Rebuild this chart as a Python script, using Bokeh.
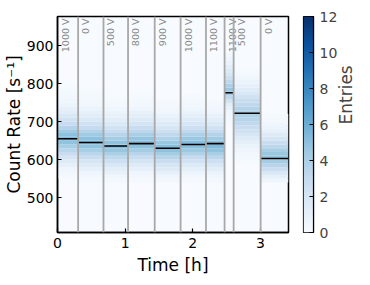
import numpy as np
from bokeh.plotting import figure
from bokeh.models import ColumnDataSource, LinearColorMapper, Span, FixedTicker, Range1d
from bokeh.layouts import row
from bokeh.palettes import Blues256
from bokeh.embed import file_html
from bokeh.resources import INLINE
from bokeh.core.properties import value

# ---------------- data ----------------
seg_start = [0.0, 0.305, 0.68, 1.043, 1.437, 1.82, 2.195, 2.47, 2.604, 3.003]
t_end = 3.415
voltages = ["1000 V", "0 V", "500 V", "800 V", "900 V", "1000 V", "1100 V", "1100 V", "500 V", "0 V"]
mean_rate = [655, 645, 636, 642, 630, 640, 642, 776, 722, 603]

# histogram rate bin edges (s^-1), 540 .. 880
rate_edges = [540, 550, 560, 570, 580, 590, 600, 610, 620, 630, 640, 650, 660, 670, 680, 690,
              700, 710, 720, 730, 740, 750, 760, 770, 780, 790, 800, 810, 820, 830, 840, 850,
              860, 870, 880]

# entries per rate bin, one profile per segment
prof0 = [0, 0.2, 0.4, 0.6, 1.0, 1.5, 2.1, 2.8, 3.5, 4.2, 4.9, 5.3, 5.0, 4.4, 3.7, 3.0, 2.4, 1.8,
         1.3, 1.0, 0.7, 0.5, 0.4, 0.3, 0.2, 0.1, 0, 0, 0, 0, 0, 0, 0, 0]
prof1 = [0.2, 0.4, 0.6, 1.0, 1.5, 2.1, 2.8, 3.5, 4.2, 4.9, 5.3, 5.0, 4.4, 3.7, 3.0, 2.4, 1.8, 1.3,
         1.0, 0.7, 0.5, 0.4, 0.3, 0.2, 0.1, 0, 0, 0, 0, 0, 0, 0, 0, 0]
prof2 = [0.3, 0.5, 0.9, 1.3, 1.9, 2.6, 3.3, 4.0, 4.7, 5.2, 4.9, 4.3, 3.6, 2.9, 2.3, 1.7, 1.3, 0.9,
         0.7, 0.5, 0.3, 0.2, 0.1, 0, 0, 0, 0, 0, 0, 0, 0, 0, 0, 0]
prof3 = [0.2, 0.4, 0.6, 1.0, 1.5, 2.2, 2.9, 3.6, 4.3, 5.0, 5.2, 4.8, 4.1, 3.4, 2.8, 2.2, 1.6, 1.2,
         0.9, 0.6, 0.4, 0.3, 0.2, 0.1, 0, 0, 0, 0, 0, 0, 0, 0, 0, 0]
prof4 = [0.4, 0.6, 1.0, 1.5, 2.1, 2.8, 3.6, 4.3, 5.0, 5.2, 4.6, 3.9, 3.2, 2.6, 2.0, 1.5, 1.1, 0.8,
         0.5, 0.4, 0.3, 0.2, 0, 0, 0, 0, 0, 0, 0, 0, 0, 0, 0, 0]
prof5 = [0.2, 0.4, 0.7, 1.1, 1.6, 2.3, 3.0, 3.8, 4.5, 5.1, 5.2, 4.6, 3.9, 3.2, 2.6, 2.0, 1.5, 1.1,
         0.8, 0.5, 0.4, 0.3, 0.2, 0, 0, 0, 0, 0, 0, 0, 0, 0, 0, 0]
prof6 = [0.3, 0.5, 0.8, 1.3, 1.9, 2.6, 3.4, 4.2, 4.9, 5.3, 5.0, 4.4, 3.7, 3.0, 2.3, 1.7, 1.3, 0.9,
         0.6, 0.4, 0.3, 0.2, 0, 0, 0, 0, 0, 0, 0, 0, 0, 0, 0, 0]
prof7 = [0, 0, 0, 0, 0, 0, 0, 0, 0, 0, 0, 0, 0, 0, 0, 0.2, 0.3, 0.4,
         0.6, 0.9, 1.4, 2.3, 3.3, 4.3, 4.6, 4.0, 3.3, 2.6, 2.0, 1.6, 1.2, 0.8, 0.6, 0.4]
prof8 = [0, 0, 0, 0, 0, 0.2, 0.3, 0.4, 0.6, 0.8, 1.1, 1.5, 1.9, 2.4, 2.8, 3.2, 3.6, 3.8,
         3.9, 3.7, 3.3, 2.9, 2.3, 1.8, 1.4, 1.0, 0.7, 0.5, 0.3, 0.2, 0, 0, 0, 0]
prof9 = [0.6, 1.1, 1.8, 2.7, 3.6, 4.3, 4.7, 4.6, 4.1, 3.4, 2.8, 2.1, 1.5, 1.0, 0.7, 0.5, 0.3, 0.2,
         0, 0, 0, 0, 0, 0, 0, 0, 0, 0, 0, 0, 0, 0, 0, 0]
profiles = [prof0, prof1, prof2, prof3, prof4, prof5, prof6, prof7, prof8, prof9]

x_ticks = [0, 1, 2, 3]
y_ticks = [500, 600, 700, 800, 900]
cb_ticks = [0, 2, 4, 6, 8, 10, 12]
y_lo, y_hi = 408, 977
c_lo, c_hi = 0, 12

# ---------------- build ----------------
seg_end = seg_start[1:] + [t_end]

pal = list(Blues256)
def lum(h):
    return int(h[1:3], 16) + int(h[3:5], 16) + int(h[5:7], 16)
if lum(pal[0]) < lum(pal[-1]):
    pal = pal[::-1]  # light -> dark

mapper = LinearColorMapper(palette=pal, low=c_lo, high=c_hi)

L, R, B, T, C = [], [], [], [], []
for i, prof in enumerate(profiles):
    for j, c in enumerate(prof):
        if c > 0:
            L.append(seg_start[i]); R.append(seg_end[i])
            B.append(rate_edges[j]); T.append(rate_edges[j + 1]); C.append(c)
hist = ColumnDataSource(dict(left=L, right=R, bottom=B, top=T, count=C))

FONT = "DejaVu Sans"
TICK_FS = "14px"
LAB_FS = "17px"

p = figure(frame_width=231, frame_height=216,
           x_range=Range1d(0, t_end), y_range=Range1d(y_lo, y_hi),
           output_backend="svg", toolbar_location=None,
           min_border_left=40, min_border_right=7, min_border_top=16, min_border_bottom=10)
p.background_fill_color = pal[0]
p.border_fill_color = "white"
p.xgrid.visible = False
p.ygrid.visible = False
p.outline_line_color = "black"
p.outline_line_width = 1.5
p.outline_line_alpha = 1

p.quad(left="left", right="right", bottom="bottom", top="top", source=hist,
       fill_color={"field": "count", "transform": mapper}, line_color=None)

for s in seg_start[1:]:
    p.add_layout(Span(location=s, dimension="height", line_color="#a8a8a8", line_width=1.8))

p.segment(x0=seg_start, x1=seg_end, y0=mean_rate, y1=mean_rate, line_color="black", line_width=1.6)

p.text(x=seg_start, y=[y_hi] * len(seg_start), text=voltages, angle=np.pi / 2,
       text_align="right", text_baseline="top", x_offset=2, y_offset=2,
       text_font=value(FONT), text_font_size="9.5px", text_color="#888888")

for ax in (p.xaxis[0], p.yaxis[0]):
    ax.major_tick_in = 4
    ax.major_tick_out = 0
    ax.minor_tick_line_color = None
    ax.axis_line_width = 1.5
    ax.major_tick_line_width = 1.2
    ax.major_label_text_font = FONT
    ax.major_label_text_font_size = TICK_FS
    ax.major_label_text_color = "black"
    ax.axis_label_text_font = FONT
    ax.axis_label_text_font_size = LAB_FS
    ax.axis_label_text_font_style = "normal"
    ax.axis_label_text_color = "black"
p.xaxis.ticker = FixedTicker(ticks=x_ticks)
p.yaxis.ticker = FixedTicker(ticks=y_ticks)
p.xaxis.axis_label = "Time [h]"
p.yaxis.axis_label = "Count Rate [s\u207b\u00b9]"
p.xaxis.major_label_standoff = 5
p.yaxis.major_label_standoff = 4
p.xaxis.axis_label_standoff = 4
p.yaxis.axis_label_standoff = 0

# ---------------- colour bar ----------------
cb = figure(frame_width=10, frame_height=216,
            x_range=Range1d(0, 1), y_range=Range1d(c_lo, c_hi),
            output_backend="svg", toolbar_location=None,
            min_border_left=8, min_border_right=4, min_border_top=16, min_border_bottom=10,
            y_axis_location="right")
cb.xaxis.visible = False
cb.xgrid.visible = False
cb.ygrid.visible = False
cb.outline_line_color = "black"
cb.outline_line_width = 1.2
grad = np.linspace(c_lo, c_hi, 256).reshape(256, 1)
cb.image(image=[grad], x=0, y=c_lo, dw=1, dh=c_hi - c_lo, color_mapper=mapper)
ya = cb.yaxis[0]
ya.ticker = FixedTicker(ticks=cb_ticks)
ya.major_tick_in = 4
ya.major_tick_out = 0
ya.minor_tick_line_color = None
ya.axis_line_width = 1.2
ya.major_label_text_font = FONT
ya.major_label_text_font_size = TICK_FS
ya.major_label_standoff = 6
ya.axis_label = "Entries"
ya.axis_label_text_font = FONT
ya.axis_label_text_font_size = LAB_FS
ya.axis_label_text_font_style = "normal"
ya.axis_label_standoff = 6
ya.axis_label_orientation = np.pi / 2

layout = row(p, cb)
open("out.html", "w").write(file_html(layout, INLINE))
